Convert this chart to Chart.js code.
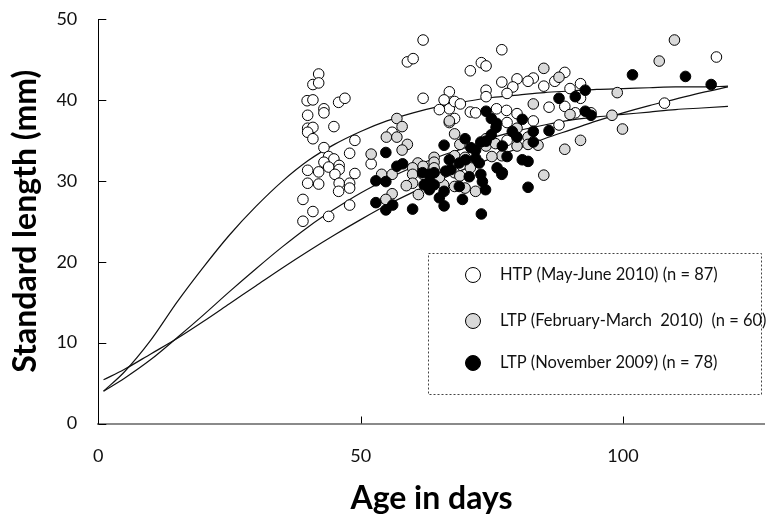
<!DOCTYPE html>
<html>
<head>
<meta charset="utf-8">
<script src="https://cdn.jsdelivr.net/npm/chart.js@4.4.1/dist/chart.umd.min.js"></script>
<style>
  html, body { margin: 0; padding: 0; background: #fff; }
</style>
</head>
<body>
<canvas id="graph" width="771" height="522"></canvas>
<script>
const xTicks = [0, 50, 100]
const yTicks = [0, 10, 20, 30, 40, 50]

// HTP (May-June 2010)
const htpAge = [
  61.9, 58.9, 60.0, 42.0, 40.9, 42.0, 39.8, 40.9, 45.8, 47.0,
  43.0, 43.0, 39.9, 44.9, 39.9, 40.9, 39.9, 40.9, 43.0, 48.9,
  43.9, 44.9, 45.9, 43.0, 39.9, 42.0, 43.9, 45.9, 45.1, 47.9,
  48.9, 39.9, 42.0, 45.9, 47.9, 47.9, 45.8, 39.0, 52.0, 66.9,
  65.9, 66.9, 67.9, 69.0, 65.0, 61.9, 67.9, 66.9, 70.9, 73.0,
  73.9, 76.9, 76.9, 73.9, 73.9, 70.9, 71.9, 75.9, 77.8, 77.9,
  56.0, 40.9, 39.0, 43.9, 47.9, 117.8, 107.9, 88.9, 87.0,
  82.9, 81.9, 79.8, 79.0, 77.9, 84.9, 89.9, 91.9, 91.9, 88.9,
  85.9, 82.9, 90.9, 93.9, 87.8, 77.9, 79.8
]
const htpLength = [
  47.4, 44.7, 45.1, 43.2, 41.9, 42.1, 39.9, 40.0, 39.7, 40.2,
  38.9, 38.4, 38.1, 36.7, 36.5, 36.6, 36.0, 35.2, 34.1, 35.0,
  33.0, 32.7, 31.9, 32.3, 31.3, 31.1, 31.7, 31.4, 30.8, 33.4,
  30.9, 29.7, 29.6, 29.7, 29.7, 29.1, 28.7, 27.7, 32.1, 41.0,
  40.0, 38.9, 39.8, 39.5, 38.8, 40.2, 37.7, 37.2, 43.6, 44.6,
  44.2, 46.2, 42.2, 41.2, 40.4, 38.5, 38.4, 38.9, 38.7, 37.2,
  36.0, 26.2, 25.0, 25.6, 27.0, 45.3, 39.6, 43.4, 42.3,
  42.7, 42.3, 42.6, 41.6, 40.8, 41.7, 41.4, 42.0, 40.2, 39.2,
  39.1, 37.4, 38.4, 38.4, 36.9, 35.0, 38.3
]

// LTP (February-March 2010)
const febAge = [
  56.9, 57.9, 54.9, 56.9, 58.9, 57.9, 52.0, 66.9, 67.9, 68.9,
  73.9, 73.9, 75.7, 60.9, 61.9, 64.0, 64.0, 64.0, 59.9, 59.9,
  61.9, 59.9, 54.0, 56.0, 58.7, 67.9, 69.9, 67.9, 68.9, 69.9,
  67.9, 65.8, 71.9, 56.0, 54.8, 109.8, 106.9, 84.9, 87.8, 98.9,
  82.9, 89.9, 97.9, 99.9, 79.8, 91.9, 88.9, 84.9, 76.9, 81.9,
  81.9, 83.8, 79.8, 65.0, 70.9, 61.0, 75.0
]
const febLength = [
  37.7, 36.7, 35.4, 35.4, 34.5, 33.8, 33.3, 37.4, 35.8, 34.5,
  35.2, 34.3, 34.6, 32.2, 31.8, 32.9, 32.3, 31.6, 31.6, 30.8,
  30.8, 29.7, 30.8, 30.8, 29.4, 33.1, 32.9, 31.0, 30.6, 29.1,
  29.3, 29.5, 28.7, 28.4, 27.7, 47.4, 44.8, 43.9, 42.8, 40.9,
  39.5, 38.2, 38.1, 36.4, 36.5, 35.0, 33.9, 30.7, 33.1, 35.4,
  34.5, 34.4, 34.3, 30.4, 31.6, 28.3, 33.0
]

// LTP (November 2009)
const novAge = [
  54.8, 56.9, 58.0, 52.9, 54.8, 65.9, 69.9, 71.0, 71.9, 72.9,
  73.9, 74.9, 75.9, 75.8, 74.9, 73.9, 77.0, 77.9, 66.9, 68.8,
  70.0, 71.9, 72.6, 66.2, 67.2, 61.8, 63.1, 64.0, 63.1, 62.1,
  64.0, 63.1, 65.9, 68.8, 70.7, 72.9, 73.2, 76.0, 77.0, 65.0,
  73.8, 69.4, 52.9, 54.8, 56.1, 59.9, 65.9, 73.0, 101.8, 111.9,
  116.8, 92.8, 90.9, 87.8, 92.8, 93.9, 80.8, 85.9, 82.9, 78.9,
  79.8, 82.9, 80.8, 81.9, 76.9, 81.9
]
const novLength = [
  33.5, 31.8, 32.1, 30.0, 29.9, 34.4, 35.2, 34.1, 33.8, 34.8,
  38.6, 37.7, 37.1, 36.6, 35.7, 34.9, 34.3, 33.0, 32.6, 32.2,
  32.6, 32.8, 32.2, 31.2, 31.4, 31.0, 30.8, 31.0, 29.9, 29.5,
  29.5, 28.9, 28.7, 29.3, 30.5, 30.8, 29.9, 31.6, 31.0, 27.9,
  28.9, 27.7, 27.3, 26.4, 27.0, 26.5, 26.9, 25.9, 43.1, 42.9,
  41.9, 41.2, 40.4, 40.2, 38.6, 38.1, 37.6, 36.2, 36.1, 36.1,
  35.4, 34.8, 32.6, 32.4, 30.8, 29.2
]

// growth curves
const curveDays = [1, 5, 10, 15, 20, 25, 30, 35, 40, 45, 50, 55, 60, 65, 70, 75, 80, 85, 90, 95, 100, 105, 110, 115, 120]
const curveHtp = [4.0, 6.4, 10.3, 15.0, 19.3, 23.3, 26.8, 29.9, 32.5, 34.5, 36.1, 37.4, 38.4, 39.2, 39.8, 40.3, 40.6, 40.9, 41.1, 41.3, 41.4, 41.5, 41.6, 41.6, 41.7]
const curveFeb = [4.0, 5.6, 7.9, 10.6, 13.4, 16.3, 19.1, 21.8, 24.3, 26.5, 28.5, 30.2, 31.7, 33.0, 34.1, 35.3, 36.2, 36.9, 37.5, 37.9, 38.2, 38.5, 38.8, 39.0, 39.2]
const curveNov = [5.4, 6.7, 8.6, 10.5, 12.6, 14.8, 17.0, 19.2, 21.3, 23.3, 25.2, 27.0, 28.6, 30.1, 31.5, 32.8, 34.0, 35.2, 36.3, 37.4, 38.4, 39.3, 40.1, 40.9, 41.6]

const legendLabels = [
  "HTP (May-June 2010) (n = 87)",
  "LTP (February-March  2010)  (n = 60)",
  "LTP (November 2009) (n = 78)"
]
const legendFills = ["#ffffff", "#d9d9d9", "#000000"]

const toPoints = (xs, ys) => xs.map((x, i) => ({ x: x, y: ys[i] }))

const scatterSet = (label, xs, ys, fill) => ({
  type: "scatter",
  label: label,
  data: toPoints(xs, ys),
  backgroundColor: fill,
  borderColor: "#000",
  borderWidth: 1,
  pointRadius: 5.3,
  pointHoverRadius: 5.3
})

const curveSet = (label, ys) => ({
  type: "line",
  label: label,
  data: toPoints(curveDays, ys),
  borderColor: "#111",
  borderWidth: 1.2,
  pointRadius: 0,
  fill: false,
  cubicInterpolationMode: "monotone"
})

const innerTicks = {
  id: "innerTicks",
  afterDraw(chart) {
    const { ctx, scales: { x, y } } = chart
    ctx.save()
    ctx.strokeStyle = "#000"
    ctx.lineWidth = 1
    y.ticks.forEach(t => {
      const py = Math.round(y.getPixelForValue(t.value)) + 0.5
      ctx.beginPath()
      ctx.moveTo(x.left, py)
      ctx.lineTo(x.left + 8, py)
      ctx.stroke()
    })
    x.ticks.forEach(t => {
      if (t.value === 0) return
      const px = Math.round(x.getPixelForValue(t.value)) + 0.5
      ctx.beginPath()
      ctx.moveTo(px, y.bottom)
      ctx.lineTo(px, y.bottom - 7)
      ctx.stroke()
    })
    ctx.restore()
  }
}

const legendBox = {
  id: "legendBox",
  afterDraw(chart) {
    const { ctx } = chart
    const rows = [275, 321, 363]
    ctx.save()
    ctx.setLineDash([2, 2])
    ctx.strokeStyle = "#444"
    ctx.lineWidth = 1
    ctx.strokeRect(428.5, 253.5, 333, 141)
    ctx.setLineDash([])
    ctx.font = "16.5px Lato"
    ctx.textBaseline = "middle"
    legendLabels.forEach((text, i) => {
      ctx.beginPath()
      ctx.arc(473, rows[i], 7.5, 0, Math.PI * 2)
      ctx.fillStyle = legendFills[i]
      ctx.fill()
      ctx.strokeStyle = "#000"
      ctx.stroke()
      ctx.fillStyle = "#111"
      ctx.fillText(text, 500, rows[i])
    })
    ctx.restore()
  }
}

new Chart(document.getElementById("graph"), {
  data: {
    datasets: [
      scatterSet(legendLabels[2], novAge, novLength, legendFills[2]),
      scatterSet(legendLabels[1], febAge, febLength, legendFills[1]),
      scatterSet(legendLabels[0], htpAge, htpLength, legendFills[0]),
      curveSet("HTP curve", curveHtp),
      curveSet("LTP Feb curve", curveFeb),
      curveSet("LTP Nov curve", curveNov)
    ]
  },
  options: {
    responsive: false,
    animation: false,
    layout: { padding: { left: 5, right: 0, top: 19, bottom: 4 } },
    plugins: {
      legend: { display: false },
      tooltip: { enabled: false }
    },
    scales: {
      x: {
        type: "linear",
        min: 0,
        max: 127,
        afterBuildTicks: scale => { scale.ticks = xTicks.map(v => ({ value: v })) },
        afterFit: scale => {
          scale.height = 94.5
          scale.paddingLeft = 0
          scale.paddingRight = 0
        },
        grid: { display: false, drawTicks: false },
        border: { display: true, color: "#8a8a8a", width: 2 },
        ticks: { padding: 22, color: "#111", font: { family: "Lato", size: 18 } },
        title: {
          display: true,
          text: "Age in days",
          color: "#000",
          font: { family: "Lato", size: 32, weight: "bold" },
          padding: { top: 0, bottom: 0 }
        }
      },
      y: {
        type: "linear",
        min: 0,
        max: 50,
        afterBuildTicks: scale => { scale.ticks = yTicks.map(v => ({ value: v })) },
        afterFit: scale => {
          scale.width = 93.3
          scale.paddingTop = 0
          scale.paddingBottom = 0
        },
        grid: { display: false, drawTicks: false },
        border: { display: true, color: "#000", width: 1 },
        ticks: { padding: 21, color: "#111", font: { family: "Lato", size: 18 } },
        title: {
          display: true,
          text: "Standard length (mm)",
          color: "#000",
          font: { family: "Lato", size: 32, weight: "bold" },
          padding: { top: 1, bottom: 0 }
        }
      }
    }
  },
  plugins: [innerTicks, legendBox]
})
</script>
</body>
</html>
